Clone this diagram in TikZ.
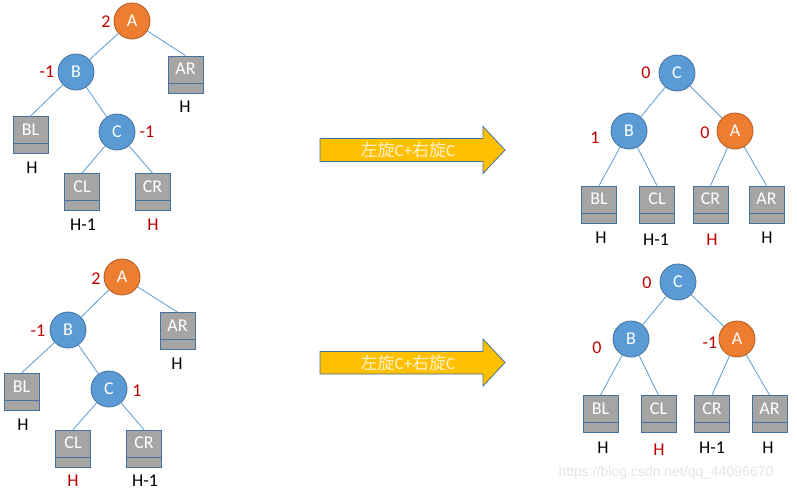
\documentclass[tikz,border=0pt]{standalone}
\usepackage{fontspec}
\setmainfont{Carlito}
\newfontfamily\cjk{Noto Sans CJK SC}
\newfontfamily\wmfont{Liberation Sans}
\definecolor{bluefill}{HTML}{5B9BD5}
\definecolor{blueborder}{HTML}{41719C}
\definecolor{orangefill}{HTML}{ED7D31}
\definecolor{orangeborder}{HTML}{AE5A21}
\definecolor{boxgray}{HTML}{A5A5A5}
\definecolor{balred}{HTML}{C00000}
\definecolor{arrowfill}{HTML}{FFC000}
\definecolor{arrowtext}{HTML}{FFF2CC}
\begin{document}
\begin{tikzpicture}[x=1pt,y=-1pt,
  circ/.style={circle,minimum size=36pt,inner sep=0pt,draw=blueborder,line width=0.8pt,fill=bluefill,text=white,font=\fontsize{18}{20}\selectfont},
  circo/.style={circ,fill=orangefill,draw=orangeborder},
  box/.style={rectangle,inner sep=0pt,minimum width=35pt,text height=18.5pt,text depth=18.5pt,fill=boxgray,draw=blueborder,line width=0.8pt,text=white,font=\fontsize{18}{20}\selectfont,
    path picture={\draw[blueborder,line width=0.8pt] ([yshift=10pt]path picture bounding box.south west) -- ([yshift=10pt]path picture bounding box.south east);}},
  bal/.style={text=balred,font=\fontsize{18}{20}\selectfont,inner sep=0pt},
  hlab/.style={text=black,font=\fontsize{18}{20}\selectfont,inner sep=0pt},
  hred/.style={hlab,text=balred},
  edge/.style={draw=bluefill,line width=0.8pt},
  bigarrow/.style={fill=arrowfill,draw=blueborder,line width=0.8pt},
  arrowlab/.style={text=arrowtext,font=\fontsize{17}{19}\selectfont,inner sep=0pt},
]
\useasboundingbox (0,0) rectangle (797,493);
\fill[white] (0,0) rectangle (797,493);

% ---------- top-left tree ----------
\node[circo] (a1) at (132,21) {A};
\node[circ] (b1) at (76,72) {B};
\node[circ] (c1) at (117,132) {C};
\node[box] (ar1) at (185.5,74.5) {AR};
\node[box] (bl1) at (30.5,135) {BL};
\node[box] (cl1) at (82,192) {CL};
\node[box] (cr1) at (152.5,192) {CR};
\draw[edge] (a1) -- (b1);
\draw[edge] (a1) -- (ar1.north);
\draw[edge] (b1) -- (bl1.north);
\draw[edge] (b1) -- (c1);
\draw[edge] (c1) -- (cl1.north);
\draw[edge] (c1) -- (cr1.north);
\node[bal] (na1) at (106,22) {2};
\node[bal] (nb1) at (47,72) {-1};
\node[bal] (nc1) at (147,132) {-1};
\node[hlab] (har1) at (185,107) {H};
\node[hlab] (hbl1) at (32,168) {H};
\node[hlab] (hcl1) at (83,225) {H-1};
\node[hred] (hcr1) at (153,225) {H};

% ---------- bottom-left tree ----------
\node[circo] (a2) at (122,277) {A};
\node[circ] (b2) at (68,330) {B};
\node[circ] (c2) at (109,389) {C};
\node[box] (ar2) at (177.5,331) {AR};
\node[box] (bl2) at (21.5,392) {BL};
\node[box] (cl2) at (73,448.5) {CL};
\node[box] (cr2) at (144,448.5) {CR};
\draw[edge] (a2) -- (b2);
\draw[edge] (a2) -- (ar2.north);
\draw[edge] (b2) -- (bl2.north);
\draw[edge] (b2) -- (c2);
\draw[edge] (c2) -- (cl2.north);
\draw[edge] (c2) -- (cr2.north);
\node[bal] (na2) at (96,279) {2};
\node[bal] (nb2) at (38,331) {-1};
\node[bal] (nc2) at (137,391) {1};
\node[hlab] (har2) at (177,364) {H};
\node[hlab] (hbl2) at (23,425) {H};
\node[hred] (hcl2) at (73,481) {H};
\node[hlab] (hcr2) at (145,481) {H-1};

% ---------- top-right tree ----------
\node[circ] (c3) at (677,73) {C};
\node[circ] (b3) at (629,131) {B};
\node[circo] (a3) at (735,131) {A};
\node[box] (bl3) at (599,204.5) {BL};
\node[box] (cl3) at (657,204.5) {CL};
\node[box] (cr3) at (710.5,204.5) {CR};
\node[box] (ar3) at (766.5,204.5) {AR};
\draw[edge] (c3) -- (b3);
\draw[edge] (c3) -- (a3);
\draw[edge] (b3) -- (bl3.north);
\draw[edge] (b3) -- (cl3.north);
\draw[edge] (a3) -- (cr3.north);
\draw[edge] (a3) -- (ar3.north);
\node[bal] (nc3) at (646,73) {0};
\node[bal] (nb3) at (595,138) {1};
\node[bal] (na3) at (705,133) {0};
\node[hlab] (hbl3) at (601,238) {H};
\node[hlab] (hcl3) at (656,240) {H-1};
\node[hred] (hcr3) at (712,240) {H};
\node[hlab] (har3) at (767,238) {H};

% ---------- bottom-right tree ----------
\node[circ] (c4) at (678,282) {C};
\node[circ] (b4) at (631,339) {B};
\node[circo] (a4) at (737,339) {A};
\node[box] (bl4) at (600.5,414) {BL};
\node[box] (cl4) at (658.5,414) {CL};
\node[box] (cr4) at (712,414) {CR};
\node[box] (ar4) at (769.5,414) {AR};
\draw[edge] (c4) -- (b4);
\draw[edge] (c4) -- (a4);
\draw[edge] (b4) -- (bl4.north);
\draw[edge] (b4) -- (cl4.north);
\draw[edge] (a4) -- (cr4.north);
\draw[edge] (a4) -- (ar4.north);
\node[bal] (nc4) at (647,283) {0};
\node[bal] (nb4) at (597,348) {0};
\node[bal] (na4) at (710,343) {-1};
\node[hlab] (hbl4) at (603,448) {H};
\node[hred] (hcl4) at (659,450) {H};
\node[hlab] (hcr4) at (712,448) {H-1};
\node[hlab] (har4) at (768,448) {H};

% ---------- arrows ----------
\draw[bigarrow] (320,138.5) -- (483,138.5) -- (483,126.5) -- (505,150) -- (483,173.5) -- (483,161.5) -- (320,161.5) -- cycle;
\node[arrowlab] (t1) at (408,150) {{\cjk 左旋}C+{\cjk 右旋}C};
\draw[bigarrow] (320,351.5) -- (483,351.5) -- (483,339) -- (505,362.5) -- (483,386) -- (483,374) -- (320,374) -- cycle;
\node[arrowlab] (t2) at (408,363) {{\cjk 左旋}C+{\cjk 右旋}C};

% ---------- watermark ----------
\node[text=black!10,font=\wmfont\fontsize{14}{16}\selectfont,inner sep=0pt] (wm) at (666,473) {https://blog.csdn.net/qq\_44096670};
\end{tikzpicture}
\end{document}
